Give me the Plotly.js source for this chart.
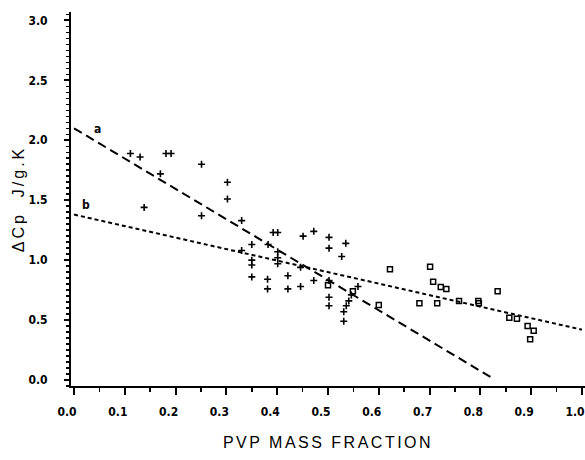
<!DOCTYPE html>
<html>
<head>
<meta charset="utf-8">
<script src="https://cdn.plot.ly/plotly-3.0.1.min.js"></script>
<style>
  body { margin: 0; background: #fff; }
  #chart { width: 585px; height: 460px; }
  .xtitle { letter-spacing: 2.5px; }
  .ytitle { letter-spacing: 3px; }
</style>
</head>
<body>
<div id="chart"></div>
<script>
// PVP mass fraction vs ΔCp (J/g.K)
const plusX = [0.111, 0.130, 0.181, 0.191, 0.170, 0.251, 0.302, 0.302, 0.138, 0.251,
               0.330, 0.350, 0.382, 0.392, 0.401, 0.330, 0.350, 0.350, 0.350, 0.401,
               0.401, 0.401, 0.381, 0.381, 0.421, 0.421, 0.446, 0.446, 0.451, 0.472,
               0.472, 0.502, 0.502, 0.502, 0.502, 0.502, 0.535, 0.527, 0.559, 0.546,
               0.541, 0.536, 0.531, 0.531];
const plusY = [1.89, 1.86, 1.89, 1.89, 1.72, 1.80, 1.65, 1.51, 1.44, 1.37,
               1.33, 1.13, 1.13, 1.23, 1.23, 1.08, 1.00, 0.96, 0.86, 1.07,
               1.02, 0.97, 0.84, 0.76, 0.87, 0.76, 0.94, 0.78, 1.20, 1.24,
               0.83, 1.19, 1.10, 0.83, 0.69, 0.62, 1.14, 1.03, 0.78, 0.71,
               0.66, 0.62, 0.57, 0.49];
const squareX = [0.500, 0.549, 0.600, 0.622, 0.701, 0.707, 0.722, 0.733, 0.680, 0.715,
                 0.758, 0.796, 0.797, 0.834, 0.857, 0.872, 0.893, 0.905, 0.898];
const squareY = [0.79, 0.74, 0.625, 0.925, 0.945, 0.82, 0.775, 0.76, 0.64, 0.64,
                 0.66, 0.66, 0.64, 0.74, 0.52, 0.51, 0.45, 0.41, 0.34];
const lineAX = [0.0, 0.822];
const lineAY = [2.10, 0.02];
const lineBX = [0.0, 1.0];
const lineBY = [1.38, 0.42];
const labelNames = ['a', 'b'];
const labelX = [0.047, 0.024];
const labelY = [2.09, 1.46];
const xTickVals = [0.0, 0.1, 0.2, 0.3, 0.4, 0.5, 0.6, 0.7, 0.8, 0.9, 1.0];
const xTickText = ['0.0', '0.1', '0.2', '0.3', '0.4', '0.5', '0.6', '0.7', '0.8', '0.9', '1.0'];
const yTickVals = [0.0, 0.5, 1.0, 1.5, 2.0, 2.5, 3.0];
const yTickText = ['0.0', '0.5', '1.0', '1.5', '2.0', '2.5', '3.0'];

const tickFont = {family: 'Liberation Sans Narrow, DejaVu Sans Condensed, Arial Narrow, sans-serif', size: 12, color: '#000', weight: 'bold'};

const traces = [
  {x: lineAX, y: lineAY, mode: 'lines', line: {color: '#000', width: 2, dash: '9px,5px'}, hoverinfo: 'skip'},
  {x: lineBX, y: lineBY, mode: 'lines', line: {color: '#000', width: 2, dash: '4px,3px'}, hoverinfo: 'skip'},
  {x: plusX, y: plusY, mode: 'markers',
   marker: {symbol: 'cross-thin-open', size: 5, color: '#000', line: {color: '#000', width: 1.6}}},
  {x: squareX, y: squareY, mode: 'markers',
   marker: {symbol: 'square-open', size: 5, color: '#000', line: {color: '#000', width: 1.5}}}
];

const annotations = labelNames.map((t, i) => ({
  x: labelX[i], y: labelY[i], xref: 'x', yref: 'y', text: t, showarrow: false,
  font: {family: 'Liberation Sans Narrow, DejaVu Sans Condensed, sans-serif', size: 12, color: '#000', weight: 'bold'}
}));

const layout = {
  width: 585, height: 460,
  margin: {l: 71, r: 0, t: 12, b: 74},
  paper_bgcolor: '#fff', plot_bgcolor: '#fff',
  showlegend: false,
  annotations: annotations,
  xaxis: {
    range: [-0.006, 1.006], showgrid: false, zeroline: false,
    showline: true, linecolor: '#000', linewidth: 2,
    ticks: 'outside', ticklen: 7, tickwidth: 2, tickcolor: '#000',
    tickvals: xTickVals, ticktext: xTickText, tickfont: tickFont,
    ticklabelstandoff: 7, ticklabelshift: -7, ticklabeloverflow: 'allow',
    minor: {dtick: 0.05, tick0: 0, ticks: 'outside', ticklen: 4, tickwidth: 1.5, tickcolor: '#000', showgrid: false},
    title: {text: 'PVP MASS FRACTION', standoff: 18,
            font: {family: 'Liberation Sans, DejaVu Sans, sans-serif', size: 16, color: '#000'}},
    automargin: false
  },
  yaxis: {
    range: [-0.05, 3.07], showgrid: false, zeroline: false,
    showline: true, linecolor: '#000', linewidth: 2,
    ticks: 'outside', ticklen: 5, tickwidth: 2, tickcolor: '#000',
    tickvals: yTickVals, ticktext: yTickText, tickfont: tickFont,
    ticklabelstandoff: 14, ticklabeloverflow: 'allow',
    minor: {dtick: 0.05, tick0: 0, ticks: 'outside', ticklen: 3, tickwidth: 1.5, tickcolor: '#000', showgrid: false},
    title: {text: 'ΔCp  J/g.K', standoff: 0,
            font: {family: 'Liberation Sans, DejaVu Sans, sans-serif', size: 16, color: '#000'}},
    automargin: false
  }
};

Plotly.newPlot('chart', traces, layout, {displayModeBar: false, staticPlot: true});
</script>
</body>
</html>
